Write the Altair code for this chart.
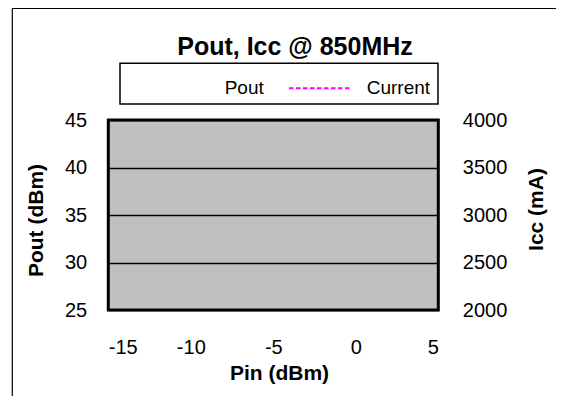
import altair as alt
import pandas as pd

# ---- chart content -------------------------------------------------------
title_text = "Pout, Icc @ 850MHz"
series_names = ["Pout", "Current"]
series_colors = ["#FFFFFF", "#FF00FF"]
series_dashes = [[1, 0], [4.5, 2.5]]

x_title = "Pin (dBm)"
y_left_title = "Pout (dBm)"
y_right_title = "Icc (mA)"

x_ticks = [-15, -10, -5, 0, 5]
pout_ticks = [25, 30, 35, 40, 45]
icc_ticks = [2000, 2500, 3000, 3500, 4000]

# No data points are visible inside the plot area of the reference
pin_values = []
pout_values = []
icc_pin_values = []
icc_values = []

FONT = "Liberation Sans"

pout_df = pd.DataFrame({
    "Pin": pd.Series(pin_values, dtype=float),
    "Pout": pd.Series(pout_values, dtype=float),
    "series": pd.Series(["Pout"] * len(pin_values), dtype=str),
})
icc_df = pd.DataFrame({
    "Pin": pd.Series(icc_pin_values, dtype=float),
    "Icc": pd.Series(icc_values, dtype=float),
    "series": pd.Series(["Current"] * len(icc_pin_values), dtype=str),
})
one_row = pd.DataFrame({"k": [0]})

W, H = 330, 190
PLAIN = "'' + datum.value"

x_enc = alt.X(
    "Pin:Q",
    scale=alt.Scale(domain=[x_ticks[0], x_ticks[-1]], nice=False, zero=False),
    axis=alt.Axis(values=x_ticks, title=x_title, ticks=False, domain=False, grid=False,
                  labelExpr=PLAIN, labelPadding=27, titleX=170.7, titleY=63,
                  titleAlign="center", titleBaseline="middle"),
)

color_enc = alt.Color("series:N", scale=alt.Scale(domain=series_names, range=series_colors),
                      legend=alt.Legend(title=None))
dash_enc = alt.StrokeDash("series:N", scale=alt.Scale(domain=series_names, range=series_dashes),
                          legend=alt.Legend(title=None))

# outer chart-area frame (only its left and top edges fall inside the window)
frame_left = alt.Chart(one_row).mark_rule(color="black", strokeWidth=1.2).encode(
    x=alt.value(-96), y=alt.value(-111.7), y2=alt.value(500)
)
frame_top = alt.Chart(one_row).mark_rule(color="black", strokeWidth=1.2).encode(
    x=alt.value(-96), x2=alt.value(700), y=alt.value(-111.7)
)

legend_box = alt.Chart(one_row).mark_rect(fill="white", stroke="black", strokeWidth=1.5).encode(
    x=alt.value(11.7), x2=alt.value(329.7), y=alt.value(-56.7), y2=alt.value(-16)
)

pout_line = alt.Chart(pout_df).mark_line(strokeWidth=2).encode(
    x=x_enc,
    y=alt.Y("Pout:Q",
            scale=alt.Scale(domain=[pout_ticks[0], pout_ticks[-1]], nice=False, zero=False),
            axis=alt.Axis(values=pout_ticks, title=y_left_title, orient="left", grid=True,
                          gridColor="black", gridWidth=1.5, gridOpacity=1, ticks=False,
                          domain=False, labelExpr=PLAIN, labelPadding=21.6, titleAngle=270,
                          titleX=-71.6, titleY=100, titleAlign="center",
                          titleBaseline="middle")),
    color=color_enc,
    strokeDash=dash_enc,
)

icc_line = alt.Chart(icc_df).mark_line(strokeWidth=2).encode(
    x=x_enc,
    y=alt.Y("Icc:Q",
            scale=alt.Scale(domain=[icc_ticks[0], icc_ticks[-1]], nice=False, zero=False),
            axis=alt.Axis(values=icc_ticks, title=y_right_title, orient="right", grid=False,
                          ticks=False, domain=False, labelExpr=PLAIN, labelPadding=24,
                          titleAngle=270, titleX=98, titleY=89, titleAlign="center",
                          titleBaseline="middle")),
    color=color_enc,
    strokeDash=dash_enc,
)

title_mark = alt.Chart(one_row).mark_text(
    text=title_text, font=FONT, fontSize=25, fontWeight="bold", color="black",
    align="center", baseline="alphabetic"
).encode(x=alt.value(186.7), y=alt.value(-65))

chart = (
    alt.layer(frame_left, frame_top, legend_box, pout_line, icc_line, title_mark)
    .resolve_scale(y="independent")
    .properties(
        width=W, height=H,
        padding={"left": 100.3, "top": 112, "right": 117.7, "bottom": 86},
        autosize=alt.AutoSizeParams(type="none"),
        background="white",
    )
    .configure_view(fill="#C0C0C0", stroke="black", strokeWidth=3)
    .configure_axis(labelFont=FONT, labelFontSize=20, labelColor="black",
                    titleFont=FONT, titleFontSize=21, titleFontWeight="bold", titleColor="black")
    .configure_legend(orient="none", legendX=37.7, legendY=-64.5, direction="horizontal",
                      symbolType="stroke", symbolSize=3969, symbolStrokeWidth=2,
                      labelFont=FONT, labelFontSize=19, labelColor="black", labelOffset=13.7,
                      columnPadding=21, padding=0)
)

chart.save("out.html", embed_options={"renderer": "svg", "actions": False})
